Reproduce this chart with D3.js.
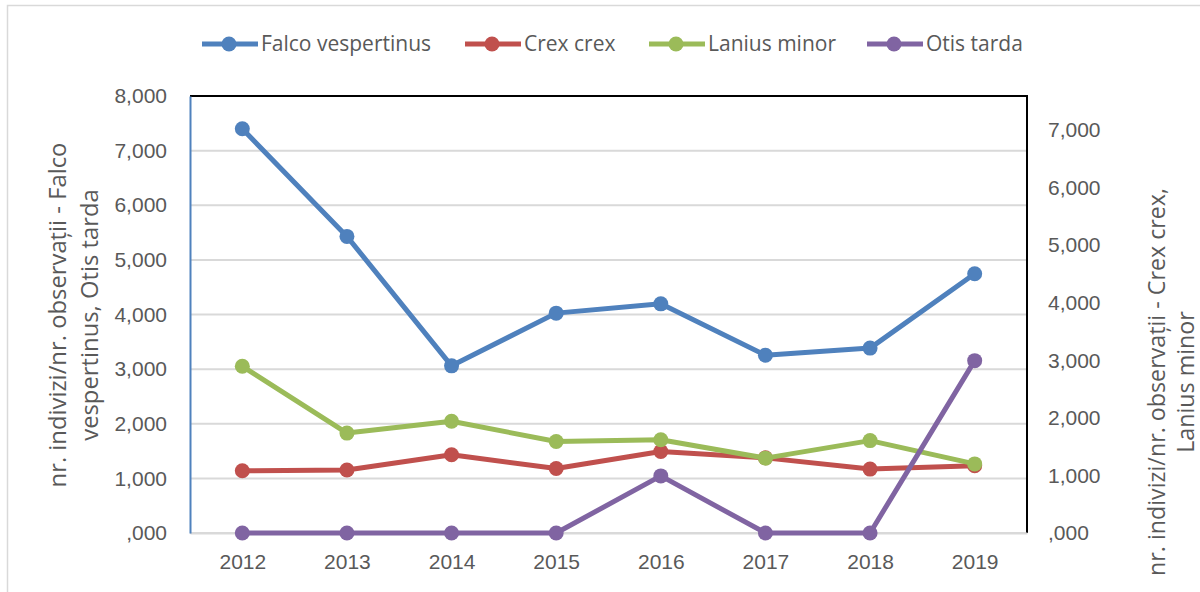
<!DOCTYPE html>
<html>
<head>
<meta charset="utf-8">
<script src="https://cdn.jsdelivr.net/npm/d3@7"></script>
<style>
	html, body { margin: 0; padding: 0; background: #fff; }
	svg { display: block; font-family: "Open Sans", sans-serif; }
	.tick text { fill: #595959; font-size: 21px; }
</style>
</head>
<body>
<div id="chart"></div>
<script>
'use strict';

//Data
var years = ['2012','2013','2014','2015','2016','2017','2018','2019'];
var falcoVespertinus = [7400, 5430, 3060, 4025, 4195, 3255, 3385, 4745];
var crexCrex = [1080, 1095, 1360, 1120, 1415, 1305, 1110, 1170];
var laniusMinor = [2895, 1735, 1940, 1590, 1620, 1300, 1605, 1200];
var otisTarda = [0, 0, 0, 0, 1045, 0, 0, 3155];
var leftTicks = [0, 1000, 2000, 3000, 4000, 5000, 6000, 7000, 8000];
var rightTicks = [0, 1000, 2000, 3000, 4000, 5000, 6000, 7000];
var leftTitle = ['nr. indivizi/nr. observații - Falco', 'vespertinus, Otis tarda'];
var rightTitle = ['nr. indivizi/nr. observații - Crex crex,', 'Lanius minor'];

(function() {
	var width = 1200, height = 592;
	var plot = {left: 190, right: 1027, top: 96, bottom: 533};

	//series: name, values, color, which axis
	var series = [
		{name: 'Falco vespertinus', values: falcoVespertinus, color: '#4f81bd', axis: 'left'},
		{name: 'Crex crex', values: crexCrex, color: '#c0504d', axis: 'right'},
		{name: 'Lanius minor', values: laniusMinor, color: '#9bbb59', axis: 'right'},
		{name: 'Otis tarda', values: otisTarda, color: '#8064a2', axis: 'left'}
	];

	var svg = d3.select('#chart').append('svg')
		.attr('width', width)
		.attr('height', height);

	//chart area border (light gray, runs off the picture)
	svg.append('rect')
		.attr('x', 7.5).attr('y', 5.5)
		.attr('width', width + 20).attr('height', height + 20)
		.attr('fill', 'none')
		.attr('stroke', '#d9d9d9')
		.attr('stroke-width', 1.5);

	/***************************************
	 * SCALES
	 ***************************************/
	var x = d3.scalePoint()
		.domain(years)
		.range([plot.left, plot.right])
		.padding(0.5);
	var yLeft = d3.scaleLinear()
		.domain([0, 8000])
		.range([plot.bottom, plot.top]);
	var yRight = d3.scaleLinear()
		.domain([0, 7590])
		.range([plot.bottom, plot.top]);

	var fmt = function(d) { return d === 0 ? ',000' : d3.format(',')(d); };

	/***************************************
	 * GRID + FRAME
	 ***************************************/
	svg.append('g')
		.selectAll('line')
		.data(leftTicks)
		.enter().append('line')
			.attr('x1', plot.left).attr('x2', plot.right)
			.attr('y1', function(d) { return yLeft(d); })
			.attr('y2', function(d) { return yLeft(d); })
			.attr('stroke', '#d9d9d9')
			.attr('stroke-width', 2);

	//top and right edges are black
	svg.append('path')
		.attr('d', 'M' + plot.left + ',' + plot.top + 'H' + plot.right + 'V' + plot.bottom)
		.attr('fill', 'none')
		.attr('stroke', '#000')
		.attr('stroke-width', 2);

	/***************************************
	 * AXES
	 ***************************************/
	var xAxis = svg.append('g')
		.attr('transform', 'translate(0,' + plot.bottom + ')')
		.call(d3.axisBottom(x).tickSize(0).tickPadding(21));
	xAxis.select('.domain').attr('stroke', '#d9d9d9').attr('stroke-width', 2);

	var leftAxis = svg.append('g')
		.attr('transform', 'translate(' + plot.left + ',0)')
		.call(d3.axisLeft(yLeft).tickValues(leftTicks).tickFormat(fmt).tickSize(0).tickPadding(23));
	leftAxis.select('.domain').attr('stroke', '#4f81bd').attr('stroke-width', 2);

	var rightAxis = svg.append('g')
		.attr('transform', 'translate(' + plot.right + ',0)')
		.call(d3.axisRight(yRight).tickValues(rightTicks).tickFormat(fmt).tickSize(0).tickPadding(21));
	rightAxis.select('.domain').remove();

	svg.selectAll('.tick text').attr('font-family', null);

	//Axis titles, two lines each; font size fitted so line 1 has the reference length
	function axisTitle(lines, cy, baselines, firstLen) {
		var t = svg.append('text')
			.attr('transform', 'translate(0,' + cy + ') rotate(-90)')
			.attr('text-anchor', 'middle')
			.attr('fill', '#595959')
			.style('font-size', '20px');
		lines.forEach(function(s, i) {
			t.append('tspan').attr('x', 0).attr('y', baselines[i]).text(s);
		});
		var len = t.select('tspan').node().getComputedTextLength();
		t.style('font-size', (20 * firstLen / len).toFixed(2) + 'px');
	}
	axisTitle(leftTitle, 315, [66, 98], 345);
	axisTitle(rightTitle, 382, [1165, 1194], 388);

	/***************************************
	 * SERIES
	 ***************************************/
	series.forEach(function(s) {
		var y = s.axis === 'left' ? yLeft : yRight;
		var line = d3.line()
			.x(function(d, i) { return x(years[i]); })
			.y(function(d) { return y(d); });
		var g = svg.append('g').attr('class', 'series');
		g.append('path')
			.datum(s.values)
			.attr('d', line)
			.attr('fill', 'none')
			.attr('stroke', s.color)
			.attr('stroke-width', 5)
			.attr('stroke-linejoin', 'round');
		g.selectAll('circle')
			.data(s.values)
			.enter().append('circle')
				.attr('cx', function(d, i) { return x(years[i]); })
				.attr('cy', function(d) { return y(d); })
				.attr('r', 7.5)
				.attr('fill', s.color);
	});

	/***************************************
	 * LEGEND
	 ***************************************/
	var legendX = [202, 465, 649, 867];
	var legend = svg.append('g')
		.selectAll('g')
		.data(series)
		.enter().append('g')
			.attr('transform', function(d, i) { return 'translate(' + legendX[i] + ',44)'; });
	legend.append('line')
		.attr('x1', 0).attr('x2', 56)
		.attr('stroke', function(d) { return d.color; })
		.attr('stroke-width', 5);
	legend.append('circle')
		.attr('cx', 27)
		.attr('r', 7.5)
		.attr('fill', function(d) { return d.color; });
	legend.append('text')
		.attr('x', 59)
		.attr('dy', '0.35em')
		.attr('fill', '#595959')
		.style('font-size', '21px')
		.text(function(d) { return d.name; });
})();
</script>
</body>
</html>
